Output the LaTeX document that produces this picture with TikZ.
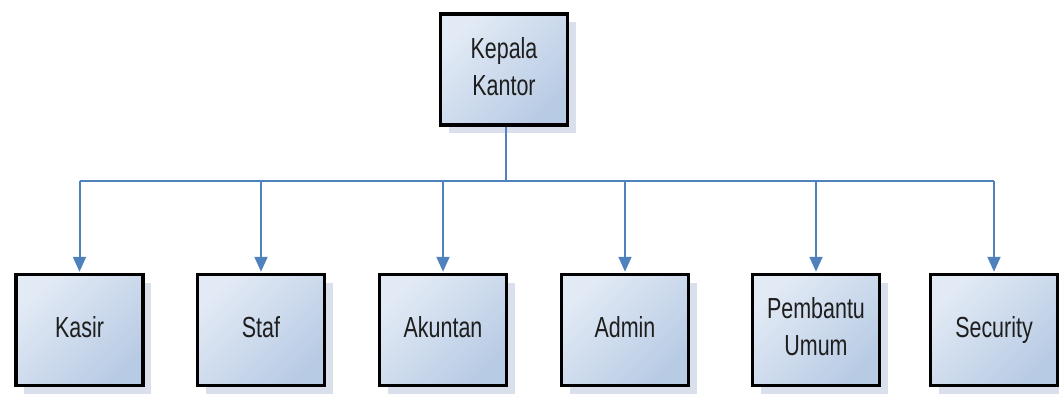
\documentclass[tikz,border=0pt]{standalone}
\usepackage{fontspec}
\usepackage{graphicx}
\setmainfont{Liberation Sans}
\usetikzlibrary{shadows,arrows.meta}
\definecolor{lineblue}{RGB}{79,129,189}
\definecolor{boxlight}{RGB}{226,234,245}
\definecolor{boxdark}{RGB}{184,203,228}
\definecolor{shadowc}{RGB}{218,224,235}
\definecolor{txt}{RGB}{30,30,30}
\newcommand\boxtext[1]{\scalebox{0.74}[1]{\begin{tabular}{@{}c@{}}#1\end{tabular}}}
\tikzset{
  orgbox/.style={draw=black, line width=3.5pt, minimum width=127pt, minimum height=111pt,
    inner sep=0pt, left color=boxlight, right color=boxdark, shading angle=45,
    drop shadow={shadow xshift=8pt, shadow yshift=-8pt, fill=shadowc, opacity=1},
    text=txt, font=\fontsize{29}{37}\selectfont},
  conn/.style={draw=lineblue, line width=2pt},
  arr/.style={conn, -{Triangle[length=15pt,width=13pt]}, shorten >=1pt}
}
\begin{document}
\begin{tikzpicture}[x=1pt,y=1pt]
\useasboundingbox (0,0) rectangle (1059,397);
\node[orgbox] (top) at (504,327.5) {\boxtext{Kepala\\Kantor}};
\node[orgbox] (kasir) at (79.5,67) {\boxtext{Kasir}};
\node[orgbox] (staf) at (261,67) {\boxtext{Staf}};
\node[orgbox] (akuntan) at (443,67) {\boxtext{Akuntan}};
\node[orgbox] (admin) at (625,67) {\boxtext{Admin}};
\node[orgbox] (pembantu) at (816,67) {\boxtext{Pembantu\\Umum}};
\node[orgbox] (security) at (994,67) {\boxtext{Security}};
\coordinate (bus) at (506,216);
\draw[conn] (top.south -| bus) -- (bus);
\draw[conn] (kasir.north |- bus) -- (security.north |- bus);
\foreach \n in {kasir,staf,akuntan,admin,pembantu,security}
  \draw[arr] (\n.north |- bus) -- (\n.north);
\end{tikzpicture}
\end{document}
